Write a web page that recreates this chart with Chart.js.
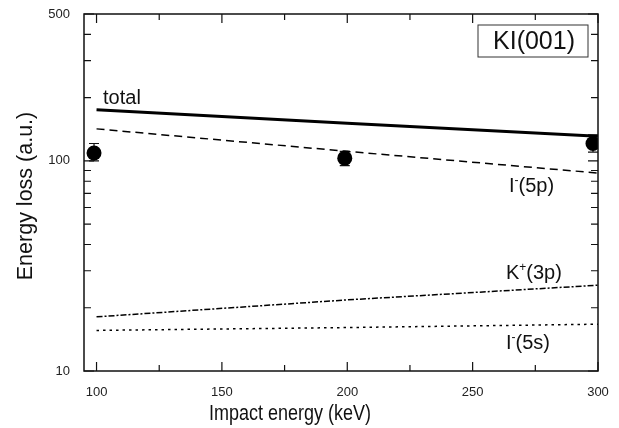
<!DOCTYPE html>
<html>
<head>
<meta charset="utf-8">
<script src="https://cdn.jsdelivr.net/npm/chart.js@4/dist/chart.umd.min.js"></script>
<style>
  body { margin: 0; background: #fff; }
  #wrap { width: 619px; height: 428px; }
</style>
</head>
<body>
<div id="wrap"><canvas id="chart" width="619" height="428"></canvas></div>
<script>
// Calculated curves
var lineX = [100, 200, 300];
var totalY = [175, 151, 131];
var i5pY = [142, 111, 87.5];
var k3pY = [18.1, 21.8, 25.6];
var i5sY = [15.6, 16.1, 16.7];

// Measured points with error bars
var expX = [99, 199, 298];
var expY = [109, 103, 121];
var expLow = [100, 95, 110];
var expHigh = [121, 111, 133];

// Axes
var xTicks = [100, 150, 200, 250, 300];
var xMinor = [125, 175, 225, 275];
var yTicks = [10, 100, 500];
var yMinor = [20, 30, 40, 50, 60, 70, 80, 90, 200, 300, 400];

const FONT = "'Liberation Sans', Arial, Helvetica, sans-serif";

function pts(xs, ys) {
    return xs.map((x, i) => ({x: x, y: ys[i]}));
}

// frame + inward ticks on all four sides
const framePlugin = {
    id: "frame",
    afterDraw(chart) {
        const {ctx, chartArea: a, scales: {x, y}} = chart;
        ctx.save();
        ctx.strokeStyle = "#111";
        ctx.lineWidth = 1.5;
        ctx.strokeRect(a.left, a.top, a.right - a.left, a.bottom - a.top);

        ctx.lineWidth = 1.2;
        ctx.beginPath();
        const xt = (v, len) => {
            let px = x.getPixelForValue(v);
            ctx.moveTo(px, a.bottom); ctx.lineTo(px, a.bottom - len);
            ctx.moveTo(px, a.top); ctx.lineTo(px, a.top + len);
        };
        const yt = (v, len) => {
            let py = y.getPixelForValue(v);
            ctx.moveTo(a.left, py); ctx.lineTo(a.left + len, py);
            ctx.moveTo(a.right, py); ctx.lineTo(a.right - len, py);
        };
        xTicks.forEach(v => xt(v, 9));
        xMinor.forEach(v => xt(v, 6));
        yTicks.forEach(v => yt(v, 10));
        yMinor.forEach(v => yt(v, 7));
        ctx.stroke();
        ctx.restore();
    }
};

// error bars under the measured points
const errorBars = {
    id: "errorBars",
    beforeDatasetsDraw(chart) {
        const {ctx, scales: {x, y}} = chart;
        ctx.save();
        ctx.strokeStyle = "#111";
        ctx.lineWidth = 1.2;
        ctx.beginPath();
        for (let i = 0; i < expX.length; i++) {
            let px = x.getPixelForValue(expX[i]);
            let lo = y.getPixelForValue(expLow[i]);
            let hi = y.getPixelForValue(expHigh[i]);
            ctx.moveTo(px, lo); ctx.lineTo(px, hi);
            ctx.moveTo(px - 5, lo); ctx.lineTo(px + 5, lo);
            ctx.moveTo(px - 5, hi); ctx.lineTo(px + 5, hi);
        }
        ctx.stroke();
        ctx.restore();
    }
};

// curve labels, axis titles and the KI(001) box
const labels = {
    id: "labels",
    afterDraw(chart) {
        const {ctx, chartArea: a, scales: {x, y}} = chart;
        ctx.save();
        ctx.fillStyle = "#111";
        ctx.textBaseline = "alphabetic";
        ctx.textAlign = "left";

        // label with optional superscript: base, sup, rest
        const put = (vx, vy, base, sup, rest) => {
            let px = x.getPixelForValue(vx);
            let py = y.getPixelForValue(vy);
            ctx.font = "20px " + FONT;
            ctx.fillText(base, px, py);
            px += ctx.measureText(base).width;
            if (sup) {
                ctx.font = "12px " + FONT;
                ctx.fillText(sup, px, py - 8);
                px += ctx.measureText(sup).width;
            }
            ctx.font = "20px " + FONT;
            ctx.fillText(rest, px, py);
        };
        put(102.6, 187, "total", "", "");
        put(264.5, 71, "I", "-", "(5p)");
        put(263.3, 27.4, "K", "+", "(3p)");
        put(263.3, 12.66, "I", "-", "(5s)");

        // KI(001) box
        let bx = a.right - 120, by = a.top + 11, bw = 110, bh = 32;
        ctx.fillStyle = "#fff";
        ctx.fillRect(bx, by, bw, bh);
        ctx.strokeStyle = "#333";
        ctx.lineWidth = 1;
        ctx.strokeRect(bx, by, bw, bh);
        ctx.fillStyle = "#111";
        ctx.font = "25px " + FONT;
        ctx.textAlign = "center";
        ctx.textBaseline = "middle";
        ctx.fillText("KI(001)", bx + bw / 2 + 1, by + bh / 2 + 1);

        // axis titles (the original figure is a bit stretched vertically)
        ctx.font = "18px " + FONT;
        ctx.save();
        ctx.translate(290, 414);
        ctx.scale(1, 1.2);
        ctx.fillText("Impact energy (keV)", 0, 0);
        ctx.restore();

        ctx.font = "21.5px " + FONT;
        ctx.translate(26, 196);
        ctx.rotate(-Math.PI / 2);
        ctx.fillText("Energy loss (a.u.)", 0, 0);
        ctx.restore();
    }
};

const lineStyle = (dash, width) => ({
    borderColor: "#000",
    borderWidth: width,
    borderDash: dash,
    pointRadius: 0,
    fill: false,
    tension: 0,
});

// no extra room for half-labels, the plot box is fixed
const noPad = s => {
    s.paddingTop = 0;
    s.paddingBottom = 0;
    s.paddingLeft = 0;
    s.paddingRight = 0;
};

new Chart(document.getElementById("chart").getContext("2d"), {
    type: "line",
    data: {
        datasets: [
            Object.assign({label: "total", data: pts(lineX, totalY)}, lineStyle([], 3)),
            Object.assign({label: "I-(5p)", data: pts(lineX, i5pY)}, lineStyle([8, 5], 1.5)),
            Object.assign({label: "K+(3p)", data: pts(lineX, k3pY)}, lineStyle([6, 2, 2, 2], 1.5)),
            Object.assign({label: "I-(5s)", data: pts(lineX, i5sY)}, lineStyle([2.5, 4], 1.5)),
            {
                label: "experiment",
                data: pts(expX, expY),
                showLine: false,
                pointRadius: 7.5,
                pointBackgroundColor: "#000",
                pointBorderColor: "#000",
                pointBorderWidth: 0,
            },
        ]
    },
    options: {
        responsive: false,
        devicePixelRatio: 1,
        animation: false,
        layout: {padding: {top: 14, right: 21, left: 0, bottom: 0}},
        plugins: {
            legend: {display: false},
            tooltip: {enabled: false},
        },
        scales: {
            x: {
                type: "linear",
                min: 95,
                max: 300,
                afterBuildTicks: s => { s.ticks = xTicks.map(v => ({value: v})); },
                afterFit: s => { s.height = 57; noPad(s); },
                grid: {display: false, drawTicks: false},
                border: {display: false},
                ticks: {
                    padding: 14,
                    color: "#222",
                    font: {family: FONT, size: 13},
                    maxRotation: 0,
                },
            },
            y: {
                type: "logarithmic",
                min: 10,
                max: 500,
                afterBuildTicks: s => { s.ticks = yTicks.map(v => ({value: v})); },
                afterFit: s => { s.width = 84; noPad(s); },
                grid: {display: false, drawTicks: false},
                border: {display: false},
                ticks: {
                    padding: 14,
                    color: "#222",
                    font: {family: FONT, size: 13},
                    callback: v => String(v),
                },
            },
        },
    },
    plugins: [errorBars, framePlugin, labels],
});
</script>
</body>
</html>
